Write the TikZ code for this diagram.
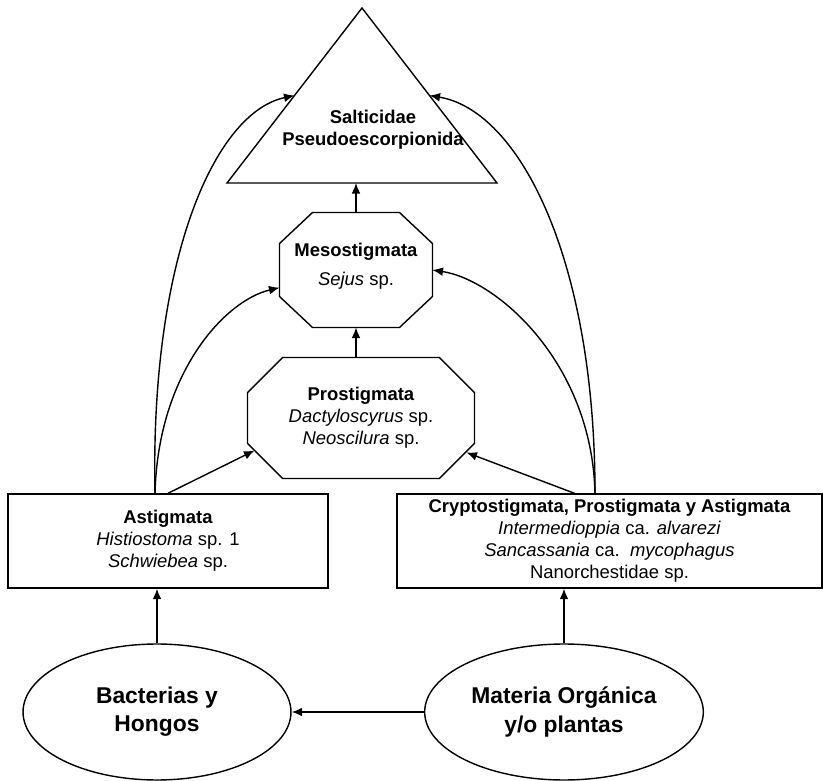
\documentclass[tikz,border=0pt]{standalone}
\usepackage{fontspec}
\setmainfont{Liberation Sans}
\usetikzlibrary{arrows.meta, shapes.geometric, positioning, calc}

\begin{document}
\begin{tikzpicture}[
    x=0.02cm, y=-0.02cm,
    taxon/.style={
        rectangle,
        draw=black,
        line width=0.8pt,
        align=center,
        font=\fontsize{10.5}{12.5}\selectfont,
        inner sep=2pt
    },
    octa/.style={
        rectangle,
        align=center,
        font=\fontsize{10.5}{12.5}\selectfont,
        inner sep=0pt,
        outer sep=0pt
    },
    source/.style={
        ellipse,
        draw=black,
        line width=0.8pt,
        align=center,
        font=\fontsize{13}{16}\selectfont\bfseries,
        minimum height=2.72cm
    },
    arrow/.style={
        -{Latex[length=6pt,width=5pt]},
        line width=0.8pt
    }
]

% Bounding box
\useasboundingbox (0,0) rectangle (823,781);

% Triangle
\coordinate (apex) at (362,8);
\coordinate (baseL) at (227,183);
\coordinate (baseR) at (497,183);
\draw[line width=0.8pt] (apex) -- (baseL) -- (baseR) -- cycle;
\node[align=center, font=\fontsize{10.5}{12.5}\selectfont\bfseries] (top) at (373,130) {Salticidae\\Pseudoescorpionida};
\coordinate (topL) at ($(apex)!0.5!(baseL)$);
\coordinate (topR) at ($(apex)!0.5!(baseR)$);

% Nodes
\node[octa, minimum width=3.06cm, minimum height=2.3cm] (meso) at (356,270) {\textbf{Mesostigmata}\\[4pt]\textit{Sejus} sp.\\[-6pt]};
\node[octa, minimum width=4.54cm, minimum height=2.42cm] (prostig) at (361,418) {\textbf{Prostigmata}\\\textit{Dactyloscyrus} sp.\\\textit{Neoscilura} sp.};

\node[taxon, minimum width=6.4cm, minimum height=1.88cm] (ast) at (168,541) {\textbf{Astigmata}\\\textit{Histiostoma} sp. 1\\\textit{Schwiebea} sp.};
\node[taxon, minimum width=8.5cm, minimum height=1.88cm] (crypto) at (609.5,541) {\textbf{Cryptostigmata, Prostigmata y Astigmata}\\\textit{Intermedioppia} ca. \textit{alvarezi}\\\textit{Sancassania} ca.\ \ \textit{mycophagus}\\Nanorchestidae sp.};

\node[source, minimum width=5.36cm] (bact) at (157,712) {Bacterias y\\Hongos};
\node[source, minimum width=5.44cm] (mat) at (564,712) {Materia Orgánica\\y/o plantas};

% Octagon outlines
\foreach \n/\cx/\cy in {meso/0.66cm/0.62cm, prostig/0.7cm/0.7cm} {
    \draw[line width=0.8pt] ([xshift=\cx]\n.north west) -- ([xshift=-\cx]\n.north east)
        -- ([yshift=-\cy]\n.north east) -- ([yshift=\cy]\n.south east)
        -- ([xshift=-\cx]\n.south east) -- ([xshift=\cx]\n.south west)
        -- ([yshift=\cy]\n.south west) -- ([yshift=-\cy]\n.north west) -- cycle;
}
\coordinate (prostigSW) at ([xshift=0.14cm,yshift=0.56cm]prostig.south west);
\coordinate (prostigSE) at ([xshift=-0.16cm,yshift=0.52cm]prostig.south east);

% Arrows
\draw[arrow] (mat) -- (bact);
\draw[arrow] (bact.north) -- (bact.north |- ast.south);
\draw[arrow] (mat.north) -- (mat.north |- crypto.south);
\draw[arrow] (ast.north) -- (prostigSW);
\draw[arrow] ([xshift=-0.7cm]crypto.north) -- (prostigSE);
\draw[arrow] (meso.south |- prostig.north) -- (meso.south);
\draw[arrow] (meso.north) -- (meso.north |- baseL);

% Curved arrows
\draw[arrow] ([xshift=-0.26cm]ast.north) .. controls +(-5,-234) and +(-80,17) .. (topL);
\draw[arrow] ([xshift=-0.26cm]ast.north) .. controls +(3,-120) and +(-55,13) .. (meso.193);
\draw[arrow] ([xshift=-0.29cm]crypto.north) .. controls +(0,-234) and +(90,15) .. (topR);
\draw[arrow] ([xshift=-0.29cm]crypto.north) .. controls +(-3,-130) and +(65,10) .. (meso.east);

\end{tikzpicture}
\end{document}
